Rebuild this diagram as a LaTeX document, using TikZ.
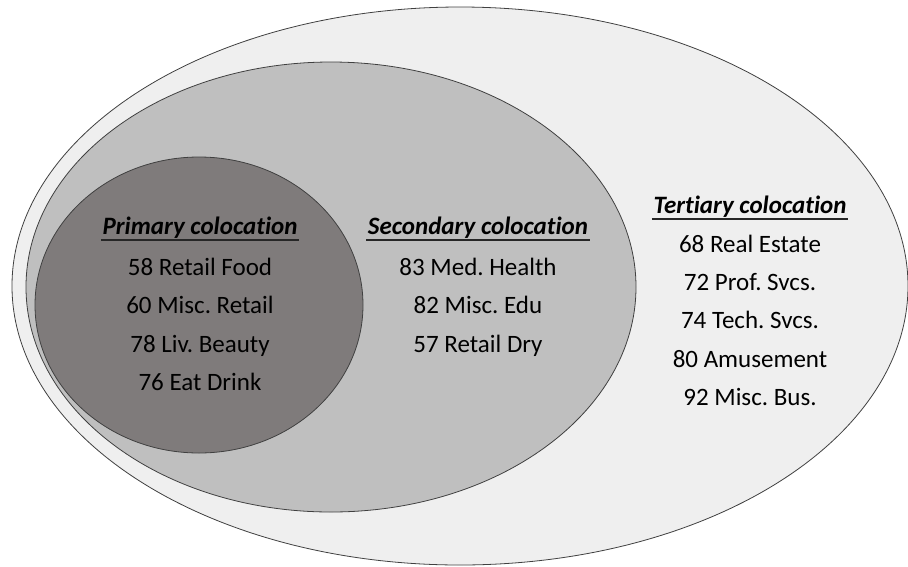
\documentclass[tikz,border=0pt]{standalone}
\usepackage{fontspec}
\setmainfont{Carlito}[Ligatures=NoCommon]
\usepackage{tikz}
\usetikzlibrary{calc}

\definecolor{ringout}{HTML}{EFEFEF}
\definecolor{ringmid}{HTML}{BFBFBF}
\definecolor{ringin}{HTML}{7F7B7B}
\definecolor{rimline}{HTML}{404040}

\tikzset{
    rim/.style={draw=rimline, line width=0.8pt},
    title/.style={anchor=base, inner xsep=1.5pt, font=\fontsize{25}{30}\selectfont\bfseries\itshape},
    item/.style={anchor=base, font=\fontsize{25}{30}\selectfont},
    rule/.style={line width=1.7pt, black!85}
}
\frenchspacing

\begin{document}
\begin{tikzpicture}[x=1pt, y=-1pt]
    \useasboundingbox (0,0) rectangle (908,566);

    % Nested rings
    \filldraw[rim, fill=ringout] (460,286) ellipse [x radius=448, y radius=279];
    \filldraw[rim, fill=ringmid] (331,287) ellipse [x radius=305, y radius=225];
    \filldraw[rim, fill=ringin] (199,305) ellipse [x radius=164, y radius=148];

    % Primary
    \node[title] (prim) at (200,234) {Primary colocation};
    \foreach \txt [count=\i] in {58 Retail Food, 60 Misc. Retail, 78 Liv. Beauty, 76 Eat Drink}
        \node[item] (prim\i) at (200,{275+38.6*(\i-1)}) {\txt};

    % Secondary
    \node[title] (sec) at (478,234) {Secondary colocation};
    \foreach \txt [count=\i] in {83 Med. Health, 82 Misc. Edu, 57 Retail Dry}
        \node[item] (sec\i) at (478,{275+38.6*(\i-1)}) {\txt};

    % Tertiary
    \node[title] (ter) at (750,213) {Tertiary colocation};
    \foreach \txt [count=\i] in {68 Real Estate, 72 Prof. Svcs., 74 Tech. Svcs., 80 Amusement, 92 Misc. Bus.}
        \node[item] (ter\i) at (750,{252+38.4*(\i-1)}) {\txt};

    % Heading underlines
    \foreach \n in {prim, sec, ter}
        \draw[rule] ($(\n.base west)+(0,6)$) -- ($(\n.base east)+(0,6)$);
\end{tikzpicture}
\end{document}
